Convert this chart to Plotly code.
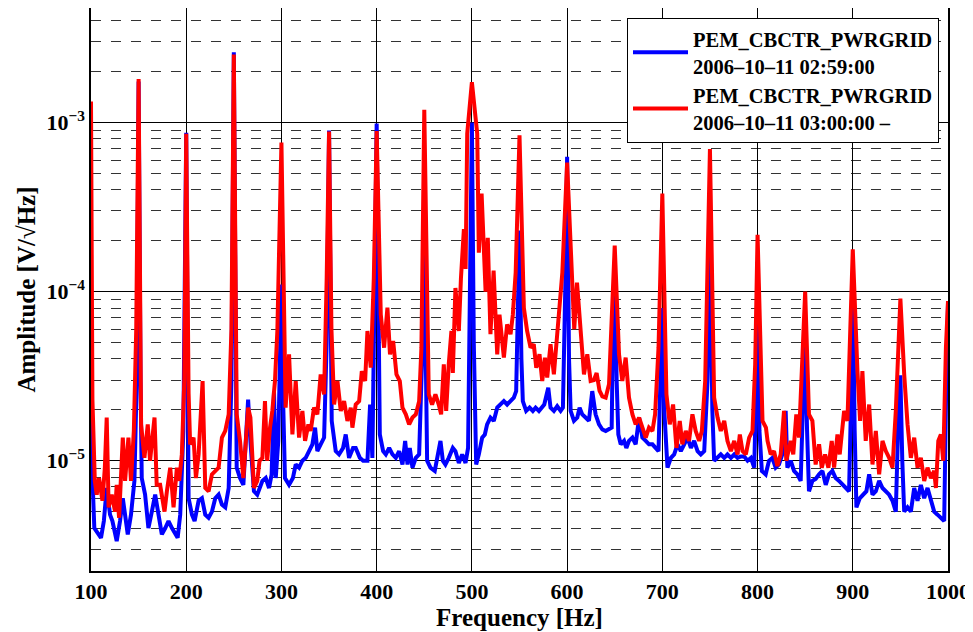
import plotly.graph_objects as go

# ---- data ----
red_freq = [100, 101.5, 104, 106, 108.5, 112, 114.5, 116.5, 118.5, 121.8, 125.3, 127, 129.5, 133.4, 135.8, 139.3, 142, 145, 147.5,
            150, 152.6, 156.1, 159.6, 162, 166.7, 169, 172.6, 177.2, 179.7, 183.2, 186.7, 190.2, 192.6, 195.4, 198,
            200, 202.5, 204.1, 207.7, 210.2, 213, 217.2, 220, 223.5, 227, 230.5, 234, 237.5, 241, 244.6, 247.5,
            250, 253, 256.5, 260, 265, 267.4, 271.1, 274.6, 277, 280, 282.7, 285, 288, 290.4, 293.2, 295.7,
            300, 304.4, 308, 311.5, 315, 318.5, 322, 324.8, 328.3, 330.7, 334.2, 337.7, 341.2, 344.8, 347.5,
            350, 352.5, 355.3, 358.8, 362.3, 365.8, 369.3, 372.8, 374.5, 378, 381.6, 384.4, 387.9, 390.3, 393.8, 397,
            400, 404.3, 407.8, 411.3, 414, 417.3, 420.8, 424.3, 427.1, 430.6, 434.1, 437.6, 441.1, 444.6, 447,
            450, 454.7, 458.2, 461.7, 465.2, 467.7, 470.5, 473, 475.7, 478.5, 480, 482.7, 484.5, 486.3, 488.5, 491.6, 493.4, 495.1,
            500, 505.6, 507.3, 510.2, 514.4, 516.7, 519.5, 522.8, 526.6, 529, 533.6, 537, 540.6, 543, 546,
            550, 554.6, 558, 561.6, 565, 567.6, 571, 573.9, 576.7, 579.1, 582.6, 586.1, 589.6, 592, 595,
            600, 605.4, 607.5, 610.4, 614.2, 617.7, 621.2, 624.7, 628.2, 631, 634, 637, 640.5, 644, 647,
            650, 654.5, 658, 661.5, 665, 668.6, 672, 675.6, 679, 682.6, 686, 689.6, 692.4, 696,
            700, 704.3, 707.8, 711.3, 714.8, 718.3, 721, 724.6, 728, 731.6, 735, 738.7, 741.5, 745,
            750, 754.4, 758, 761.4, 765, 768.4, 772, 775.5, 779, 781.4, 784.2, 787.7, 791.2, 794.7, 797.5,
            800, 805.2, 808.8, 810.5, 813.8, 817.3, 820.8, 824.3, 827.8, 830.2, 834.8, 837.5, 840.7, 843.5, 846.3,
            850, 854, 857.6, 861, 864.6, 867.4, 870.9, 874.4, 877.9, 880.4, 883.9, 886.3, 890.9, 894.4, 896.8,
            900, 904.9, 907.7, 910.1, 913.6, 917.2, 920.7, 924.2, 927.7, 931.2, 934.7, 938.2, 941.7, 945.2, 947,
            950, 954, 957.5, 961, 964.5, 968, 971.5, 975, 978.5, 982, 985.5, 987.3, 989.8, 992.5, 995, 997.8, 1000]
red_amp = [1.33e-3, 2.3e-5, 7.6e-6, 6.3e-6, 7.9e-6, 5.8e-6, 9.0e-6, 1.8e-5, 5.3e-6, 6.3e-6, 5.0e-6, 7.2e-6, 4.6e-6, 1.37e-5, 7.6e-6, 1.37e-5, 7.6e-6, 1.5e-5, 6e-5,
           1.81e-3, 1.64e-5, 1.04e-5, 1.64e-5, 1.0e-5, 1.8e-5, 7.2e-6, 7.2e-6, 5.0e-6, 6.6e-6, 9.1e-6, 5.3e-6, 9.1e-6, 7.6e-6, 1.09e-5, 3e-5,
           8.57e-4, 2.5e-5, 1.25e-5, 1.37e-5, 7.9e-6, 1.09e-5, 2.96e-5, 6.9e-6, 6.6e-6, 8.3e-6, 8.7e-6, 9.1e-6, 1.37e-5, 1.5e-5, 1.88e-5, 6e-5,
           2.52e-3, 1.88e-5, 1.31e-5, 7.9e-6, 2.06e-5, 1.8e-5, 6.9e-6, 7.6e-6, 1.0e-5, 1.04e-5, 2.25e-5, 1.0e-5, 1.57e-5, 1.97e-5, 2.96e-5, 5.85e-5,
           7.6e-4, 2.06e-5, 4.26e-5, 1.43e-5, 2.96e-5, 1.37e-5, 1.97e-5, 1.31e-5, 1.64e-5, 1.5e-5, 2.06e-5, 1.88e-5, 3.24e-5, 2.47e-5, 1.2e-4,
           8.85e-4, 6e-5, 2.15e-5, 2.96e-5, 1.97e-5, 2.25e-5, 1.72e-5, 2.06e-5, 1.57e-5, 2.15e-5, 2.25e-5, 3.39e-5, 2.96e-5, 5.85e-5, 3.55e-5, 1.2e-4,
           8.9e-4, 7.34e-5, 4.66e-5, 8.04e-5, 4.26e-5, 5.11e-5, 3.24e-5, 2.96e-5, 2.06e-5, 1.88e-5, 1.64e-5, 1.8e-5, 1.88e-5, 2.25e-5, 4.66e-5,
           1.19e-3, 2.47e-5, 2.15e-5, 2.47e-5, 2.15e-5, 1.88e-5, 3.72e-5, 1.97e-5, 3.72e-5, 5.85e-5, 3.3e-5, 1.05e-4, 8e-5, 5.85e-5, 1.2e-4, 2.34e-4, 1.36e-4, 8.6e-4,
           1.73e-3, 8.6e-4, 1.7e-4, 3.8e-4, 1.0e-4, 2.08e-4, 5.6e-5, 1.33e-4, 4.26e-5, 7.3e-5, 4.07e-5, 6.4e-5, 5.6e-5, 7.3e-5, 1.3e-4,
           8.4e-4, 8.0e-5, 5.85e-5, 4.66e-5, 4.88e-5, 3.55e-5, 4.26e-5, 2.96e-5, 4.07e-5, 3.1e-5, 4.88e-5, 3.24e-5, 5.85e-5, 7.7e-5, 1.3e-4,
           5.8e-4, 1.1e-4, 6e-5, 1.13e-4, 5.85e-5, 3.24e-5, 4.26e-5, 2.96e-5, 3.0e-5, 3.3e-5, 2.6e-5, 2.4e-5, 2.36e-5, 2.83e-5, 7.3e-5,
           1.87e-4, 4.26e-5, 2.96e-5, 4.07e-5, 2.36e-5, 1.88e-5, 1.64e-5, 1.8e-5, 1.57e-5, 1.37e-5, 1.57e-5, 1.5e-5, 1.88e-5, 4.66e-5,
           3.8e-4, 2.47e-5, 1.64e-5, 2.15e-5, 1.19e-5, 1.72e-5, 1.25e-5, 1.5e-5, 1.31e-5, 1.88e-5, 1.5e-5, 1.31e-5, 1.5e-5, 2.96e-5,
           6.96e-4, 2.36e-5, 1.8e-5, 1.5e-5, 1.72e-5, 1.31e-5, 1.14e-5, 1.31e-5, 1.09e-5, 1.43e-5, 1.14e-5, 1.09e-5, 1.37e-5, 1.5e-5, 3.72e-5,
           2.17e-4, 1.72e-5, 1.57e-5, 1.31e-5, 1.09e-5, 1.14e-5, 9.3e-6, 1.09e-5, 1.97e-5, 1.0e-5, 1.31e-5, 1.09e-5, 1.88e-5, 1.37e-5, 3.72e-5,
           1.0e-4, 1.88e-5, 1.72e-5, 9.5e-6, 1.25e-5, 9.1e-6, 1.09e-5, 9.1e-6, 1.31e-5, 9.1e-6, 1.43e-5, 1.09e-5, 1.97e-5, 1.72e-5, 4.66e-5,
           1.78e-4, 3.39e-5, 1.72e-5, 3.39e-5, 1.31e-5, 2.15e-5, 9.5e-6, 1.5e-5, 8.3e-6, 1.31e-5, 1.14e-5, 1.04e-5, 9.1e-6, 1.97e-5, 3.72e-5,
           9.1e-5, 3.24e-5, 1.64e-5, 1.04e-5, 1.37e-5, 9.1e-6, 1.04e-5, 7.6e-6, 9.1e-6, 7.9e-6, 8.7e-6, 6.9e-6, 1.31e-5, 1.43e-5, 1.0e-5, 4.66e-5, 8.8e-5]

blue_freq = [100, 101.5, 103.5, 107.5, 110.5, 113.5, 116.5, 120, 122.5, 127, 130.5, 133.4, 138.6, 142, 145.6, 148,
             150, 152, 153.3, 156.8, 160.3, 163.9, 167.4, 170.9, 174.4, 178, 181.4, 185, 189, 191, 193.7, 197,
             200, 202.5, 206, 208.8, 213, 216.5, 220, 223.5, 227, 230.5, 234, 237.5, 241, 244.6, 247.5,
             250, 253, 256.5, 260, 262.5, 265, 267.4, 271.1, 274.6, 278, 280, 283.5, 287, 289.7, 292.2, 294, 296.7, 298,
             300, 302, 303.7, 308, 312, 315, 318.5, 322, 325.5, 329, 332.5, 335.3, 337.7, 341.2, 344.8, 347.5,
             350, 352.8, 357, 360.5, 364.7, 367.5, 371, 375.2, 378, 382.3, 385.8, 390.3, 393.1, 395.5, 398,
             400, 403.3, 406.8, 409.6, 413.1, 416.6, 420.1, 423.6, 427.1, 429.9, 432.4, 434.8, 437.6, 441.1, 444.6, 447.5,
             450, 453, 456.5, 461, 464.5, 467, 469.5, 472.2, 475.7, 480, 482.7, 486.3, 489.8, 493.3, 496, 498,
             500, 502, 504.5, 507.3, 510.8, 513.6, 516, 519.5, 523, 526.6, 530, 533.6, 537, 540.6, 544, 546.5, 548,
             550, 552, 553.5, 557, 560.6, 564, 566.9, 570.4, 573.2, 576, 580.2, 582.6, 586.1, 589.6, 593.2, 595.6, 598,
             600, 602, 603.7, 607.2, 610.7, 613.1, 615.9, 619.4, 622.9, 626.4, 629.9, 633.5, 637, 640.5, 644, 646.8, 648,
             650, 652, 653.8, 656.3, 659.8, 662.2, 665, 668.6, 672, 675.6, 679, 682.6, 686, 689.6, 693, 696, 698,
             700, 702, 705.4, 709, 712.4, 716, 719.4, 723, 726.4, 730, 733.4, 737, 740.4, 744, 747.5,
             750, 752.5, 754.4, 758, 761.4, 765, 768.4, 772, 775.5, 779, 782.5, 786, 789.5, 793, 796.5, 798,
             800, 802, 804.5, 808.5, 812, 815.5, 819, 822.5, 826, 829.5, 831.3, 834.8, 838.3, 841.8, 845.3, 847.5,
             850, 852, 854, 857.6, 861, 864.6, 868.1, 871.6, 875, 878.6, 882, 885.6, 889.1, 892.6, 896.1, 898,
             900, 902, 903.8, 907.3, 910.8, 914.3, 917.2, 920.7, 924.2, 927.7, 931.2, 934.7, 938.2, 941.7, 945.2, 947.5,
             950, 952, 954, 957.5, 961, 964.5, 968, 971.5, 975, 978.5, 982, 985.5, 989, 992.5, 996, 998, 1000]
blue_amp = [2.5e-5, 8e-6, 4.0e-6, 3.67e-6, 3.5e-6, 4.4e-6, 6.9e-6, 4.8e-6, 4.4e-6, 3.35e-6, 4.4e-6, 6.0e-6, 3.67e-6, 4.8e-6, 7.6e-6, 3e-5,
            1.75e-3, 3e-5, 7.9e-6, 6.3e-6, 4.0e-6, 5.0e-6, 6.3e-6, 4.8e-6, 3.67e-6, 4.0e-6, 4.4e-6, 4.0e-6, 3.67e-6, 3.5e-6, 4.8e-6, 1.5e-5,
            8.7e-4, 6.0e-6, 4.8e-6, 4.4e-6, 5.8e-6, 6.0e-6, 4.8e-6, 4.6e-6, 5.0e-6, 6.0e-6, 6.3e-6, 5.5e-6, 5.3e-6, 6.9e-6, 3e-5,
            2.6e-3, 9.1e-6, 7.9e-6, 7.2e-6, 1.2e-5, 2.3e-5, 1.31e-5, 6.6e-6, 6.3e-6, 7.2e-6, 7.6e-6, 7.9e-6, 6.9e-6, 8.3e-6, 2.58e-5, 7.9e-6, 1.31e-5, 3e-5,
            1.1e-4, 2e-5, 7.9e-6, 7.2e-6, 7.9e-6, 9.5e-6, 9.1e-6, 1.0e-5, 1.04e-5, 1.14e-5, 1.25e-5, 1.57e-5, 1.14e-5, 1.25e-5, 1.37e-5, 5e-5,
            8.95e-4, 1.72e-5, 1.14e-5, 1.09e-5, 1.19e-5, 1.43e-5, 1.04e-5, 1.19e-5, 1.19e-5, 1.04e-5, 1.0e-5, 1.0e-5, 2.15e-5, 1.04e-5, 2.6e-4,
            9.87e-4, 1.43e-5, 1.14e-5, 1.09e-5, 1.19e-5, 1.09e-5, 1.04e-5, 1.14e-5, 9.5e-6, 1.31e-5, 9.5e-6, 1.19e-5, 9.1e-6, 1.04e-5, 1.09e-5, 3.7e-5,
            2e-4, 1.0e-5, 9.1e-6, 8.7e-6, 1.09e-5, 1.31e-5, 1.0e-5, 9.5e-6, 1.04e-5, 1.19e-5, 1.14e-5, 9.7e-6, 1.09e-5, 9.7e-6, 1.19e-5, 1e-4,
            1.0e-3, 5e-5, 9.5e-6, 1.09e-5, 1.37e-5, 1.43e-5, 1.64e-5, 1.8e-5, 1.72e-5, 2.06e-5, 2.15e-5, 2.25e-5, 2.15e-5, 2.25e-5, 2.36e-5, 2.58e-5, 6e-5,
            2.3e-4, 4e-5, 2.25e-5, 1.97e-5, 2.06e-5, 1.97e-5, 2.06e-5, 1.97e-5, 2.06e-5, 2.15e-5, 2.7e-5, 2.06e-5, 1.97e-5, 2.1e-5, 1.97e-5, 2.06e-5, 1e-4,
            6.27e-4, 4e-5, 1.97e-5, 1.72e-5, 1.8e-5, 2.06e-5, 1.88e-5, 1.8e-5, 1.72e-5, 2.58e-5, 1.88e-5, 1.64e-5, 1.53e-5, 1.5e-5, 1.53e-5, 1.57e-5, 5e-5,
            1.5e-4, 3e-5, 1.43e-5, 1.25e-5, 1.31e-5, 1.19e-5, 1.31e-5, 1.37e-5, 1.25e-5, 1.8e-5, 1.37e-5, 1.31e-5, 1.25e-5, 1.25e-5, 1.19e-5, 1.14e-5, 3e-5,
            8e-5, 2e-5, 9.1e-6, 1.04e-5, 1.09e-5, 1.25e-5, 1.14e-5, 1.25e-5, 1.37e-5, 1.19e-5, 1.31e-5, 1.14e-5, 1.09e-5, 1.14e-5, 3e-5,
            2.5e-4, 2e-5, 1.0e-5, 1.04e-5, 1.09e-5, 1.04e-5, 1.09e-5, 1.04e-5, 1.09e-5, 1.04e-5, 1.06e-5, 1.06e-5, 1.0e-5, 1.04e-5, 9.1e-6, 2e-5,
            1.5e-4, 1.5e-5, 8.7e-6, 8.3e-6, 1.0e-5, 1.04e-5, 9.1e-6, 9.5e-6, 1.09e-5, 1.97e-5, 9.1e-6, 1.0e-5, 8.7e-6, 8.3e-6, 7.6e-6, 2e-5,
            5.5e-5, 1.5e-5, 6.6e-6, 7.6e-6, 7.8e-6, 8.3e-6, 8.7e-6, 7.2e-6, 8.3e-6, 8.7e-6, 7.9e-6, 7.6e-6, 7.2e-6, 6.9e-6, 6.6e-6, 2e-5,
            1.2e-4, 1.5e-5, 5.3e-6, 6.0e-6, 6.3e-6, 6.6e-6, 8.3e-6, 6.3e-6, 6.6e-6, 7.6e-6, 6.9e-6, 6.6e-6, 6.3e-6, 5.8e-6, 5.0e-6, 1.5e-5,
            3.2e-5, 1e-5, 5.0e-6, 5.3e-6, 5.0e-6, 6.9e-6, 5.8e-6, 7.2e-6, 6.0e-6, 6.9e-6, 5.8e-6, 5.0e-6, 4.8e-6, 4.6e-6, 4.4e-6, 2.5e-5, 8.5e-5]

x_ticks = [100, 200, 300, 400, 500, 600, 700, 800, 900, 1000]
y_ticks = [1e-5, 1e-4, 1e-3]
y_tick_text = ["10<sup>−5</sup>", "10<sup>−4</sup>", "10<sup>−3</sup>"]
y_minor = [m * 10.0 ** e for e in (-6, -5, -4, -3) for m in range(2, 10)]

label_blue = "PEM_CBCTR_PWRGRID<br>2006–10–11 02:59:00"
label_red = "PEM_CBCTR_PWRGRID<br>2006–10–11 03:00:00 –"

FONT = "Liberation Serif"

fig = go.Figure()
fig.add_trace(go.Scatter(x=blue_freq, y=blue_amp, mode="lines", name=label_blue,
                         line=dict(color="#0000ff", width=4)))
fig.add_trace(go.Scatter(x=red_freq, y=red_amp, mode="lines", name=label_red,
                         line=dict(color="#ff0000", width=4)))

# the page body adds an 8px offset, so the figure is 8px smaller and shifted
fig.update_layout(
    width=965, height=624,
    margin=dict(l=83, r=25, t=0, b=61, autoexpand=False),
    paper_bgcolor="white", plot_bgcolor="white",
    font=dict(family=FONT, size=20, color="black", weight="bold"),
    showlegend=True,
    legend=dict(x=0.9895, y=0.982, xanchor="right", yanchor="top",
                bgcolor="white", bordercolor="black", borderwidth=1,
                font=dict(family=FONT, size=20.5, color="black", weight="bold"),
                tracegroupgap=0, itemwidth=55),
)
fig.update_xaxes(
    range=[100, 1000], tickvals=x_ticks, ticks="", automargin=False,
    showgrid=True, gridcolor="black", gridwidth=1,
    showline=True, linecolor="black", linewidth=1.5, mirror=True,
    zeroline=False,
    tickfont=dict(family=FONT, size=22, weight="bold"),
    title=dict(text="Frequency [Hz]", font=dict(family=FONT, size=25, weight="bold"), standoff=2),
)
fig.update_yaxes(
    type="log", range=[-5.652, -2.323], automargin=False,
    tickvals=y_ticks, ticktext=y_tick_text, ticks="",
    showgrid=True, gridcolor="black", gridwidth=1,
    minor=dict(tickvals=y_minor, showgrid=True, gridcolor="#333333", gridwidth=1, griddash="10px,10px", ticks=""),
    showline=True, linecolor="black", linewidth=1.5, mirror=True,
    zeroline=False,
    tickfont=dict(family=FONT, size=22, weight="bold"),
    title=dict(text="Amplitude [V/√Hz]", font=dict(family=FONT, size=25, weight="bold"), standoff=4),
)

fig.write_html("out.html")
